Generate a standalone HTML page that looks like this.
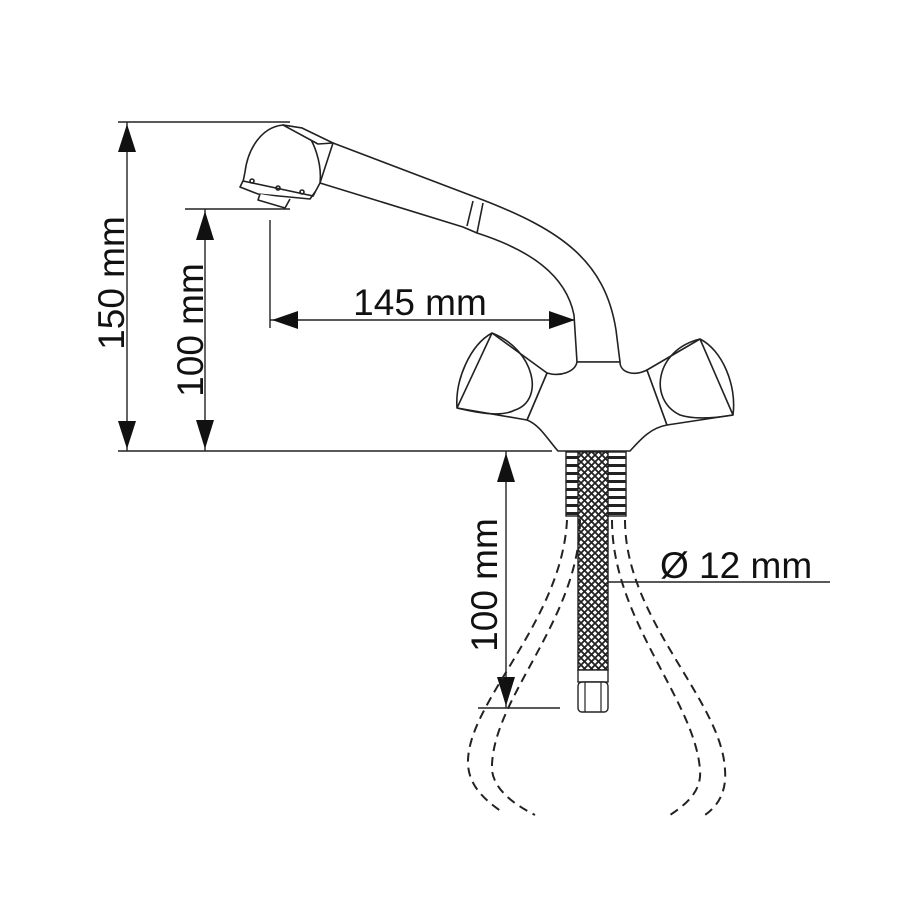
<!DOCTYPE html>
<html><head><meta charset="utf-8"><style>
html,body{margin:0;padding:0;background:#fff;}
svg{display:block;}
text{font-family:"Liberation Sans",sans-serif;fill:#111;}
</style></head><body>
<svg width="900" height="900" viewBox="0 0 900 900" xmlns="http://www.w3.org/2000/svg">
<defs>
<pattern id="braid" width="7" height="7" patternUnits="userSpaceOnUse">
<rect width="7" height="7" fill="#fff"/>
<path d="M0 0L7 7M7 0L0 7" stroke="#222" stroke-width="1.8"/>
</pattern>
<pattern id="thread" width="60" height="8" patternUnits="userSpaceOnUse">
<rect width="60" height="8" fill="#fff"/>
<rect x="0" y="0" width="60" height="3" fill="#222"/>
</pattern>
</defs>
<g stroke="#222" stroke-width="1.4" fill="none">
<line x1="118" y1="122" x2="290" y2="122"/>
<line x1="118" y1="451" x2="552" y2="451"/>
<line x1="185" y1="209" x2="290" y2="209"/>
<line x1="270" y1="220" x2="270" y2="328"/>
<line x1="478" y1="708" x2="560" y2="708"/>
<line x1="127" y1="122" x2="127" y2="451"/>
<line x1="205" y1="209" x2="205" y2="451"/>
<line x1="270" y1="320" x2="575" y2="320"/>
<line x1="506" y1="451" x2="506" y2="708"/>
<line x1="585" y1="582" x2="830" y2="582"/>
</g>
<g fill="#111">
<polygon points="127,124 118,152 136,152"/>
<polygon points="127,449 118,421 136,421"/>
<polygon points="205,211 196,240 214,240"/>
<polygon points="205,449 196,420 214,420"/>
<polygon points="272,320 298,311 298,329"/>
<polygon points="575,320 549,311 549,329"/>
<polygon points="506,453 497,482 515,482"/>
<polygon points="506,706 497,677 515,677"/>
<polygon points="585,582 608,575 608,589"/>
</g>
<text x="0" y="0" font-size="37" text-anchor="middle" transform="translate(124,283) rotate(-90)">150 mm</text>
<text x="0" y="0" font-size="37" text-anchor="middle" transform="translate(203,330) rotate(-90)">100 mm</text>
<text x="0" y="0" font-size="37" text-anchor="middle" transform="translate(497,585) rotate(-90)">100 mm</text>
<text x="420" y="315" font-size="37" text-anchor="middle">145 mm</text>
<text x="660" y="578" font-size="37">Ø 12 mm</text>

<g stroke="#222" stroke-width="1.6" fill="#fff" stroke-linejoin="round">
<path d="M333,143 L483,200 C560,230 605,260 616,330 L620,362 L577,362 L574,315 C566,275 530,250 477,233 L463,227 L320,183 Z"/>
<path d="M467,226 L473,201 M477,233 L483,203" fill="none"/>
<path d="M283,125 C262,127 248,148 245,172 L243,182 L313,196 L320,183 C322,165 315,140 302,128 Z"/>
<path d="M283,125 L302,128 L333,143 L318,144 Z"/>
<path d="M243,181 L240,187 L258,194 L310,199 L315,192 L313,196 Z"/>
<path d="M260,194 L258,200 L285,208 L290,199"/>
<circle cx="252" cy="181" r="2" fill="none"/>
<circle cx="278" cy="188" r="2" fill="none"/>
<circle cx="302" cy="192" r="2" fill="none"/>
<path d="M577,362 C575,372 560,377 547,373 L527,420 C540,425 548,440 558,451 L630,451 C640,440 650,428 667,425 L647,370 C633,377 620,372 620,362 Z"/>
<path d="M492,333 L547,373 L527,420 L457,408 C455,380 470,345 492,333 Z"/>
<path d="M492,333 L457,408 M492,333 C535,350 545,400 515,410 C500,418 475,412 457,408" fill="none"/>
<path d="M700,339 L647,370 L667,425 L733,415 C737,385 722,350 700,339 Z"/>
<path d="M700,339 L733,415 M700,339 C655,350 648,400 680,415 C695,420 715,418 733,415" fill="none"/>
</g>
<rect x="566" y="452" width="60" height="64" fill="url(#thread)" stroke="#222" stroke-width="1.4"/>
<rect x="578" y="452" width="30" height="218" fill="url(#braid)" stroke="#222" stroke-width="1.4"/>
<rect x="578" y="670" width="30" height="12" fill="#fff" stroke="#222" stroke-width="1.4"/>
<rect x="578" y="682" width="30" height="30" rx="4" fill="#fff" stroke="#222" stroke-width="1.4"/>
<line x1="585" y1="682" x2="585" y2="712" stroke="#222" stroke-width="1.2"/>
<line x1="601" y1="682" x2="601" y2="712" stroke="#222" stroke-width="1.2"/>
<g stroke="#222" stroke-width="2" fill="none" stroke-dasharray="9,6">
<path d="M567,520 C562,620 470,700 468,760 C467,785 485,800 502,812"/>
<path d="M580,520 C580,620 490,700 492,770 C494,790 515,805 535,815"/>
<path d="M612,520 C612,620 695,700 700,770 C702,792 685,805 670,815"/>
<path d="M625,520 C625,620 722,700 725,770 C727,795 715,808 705,815"/>
</g>
</svg>
</body></html>
